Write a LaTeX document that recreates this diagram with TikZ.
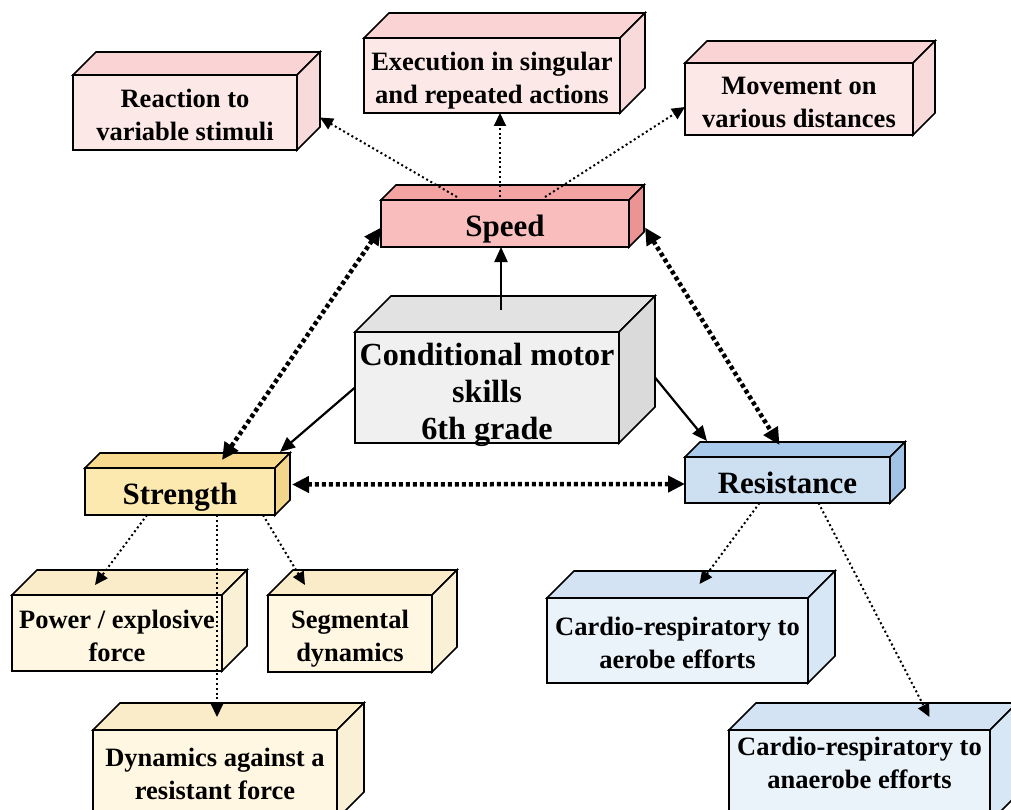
\documentclass[tikz,border=0pt]{standalone}
\usepackage{fontspec}
\setmainfont{Liberation Serif}
\usetikzlibrary{calc,arrows.meta}

\definecolor{spF}{HTML}{F9BDBD}
\definecolor{spT}{HTML}{F4A3A3}
\definecolor{spS}{HTML}{EC9494}
\definecolor{plF}{HTML}{FDE8E8}
\definecolor{plT}{HTML}{FAD4D4}
\definecolor{plS}{HTML}{F8DADA}
\definecolor{stF}{HTML}{FCE9B0}
\definecolor{stT}{HTML}{F8DA8E}
\definecolor{stS}{HTML}{F2D68C}
\definecolor{ylF}{HTML}{FFF7E2}
\definecolor{ylT}{HTML}{FBECC9}
\definecolor{ylS}{HTML}{FAF0D5}
\definecolor{reF}{HTML}{CDE0F2}
\definecolor{reT}{HTML}{A9CAEA}
\definecolor{reS}{HTML}{A0C3E6}
\definecolor{blF}{HTML}{EAF2FA}
\definecolor{blT}{HTML}{D3E3F3}
\definecolor{blS}{HTML}{D8E7F5}
\definecolor{ceF}{HTML}{F0F0F0}
\definecolor{ceT}{HTML}{E2E2E2}
\definecolor{ceS}{HTML}{DADADA}

\newcommand{\leaftext}[2][-5pt]{\fontsize{26.5}{33}\selectfont\raisebox{#1}[\height][\depth]{\begin{tabular}{@{}c@{}}#2\end{tabular}}}
\newcommand{\maintext}[2][-6pt]{\fontsize{31}{37}\selectfont\raisebox{#1}[\height][\depth]{\begin{tabular}{@{}c@{}}#2\end{tabular}}}
\newcommand{\centertext}[2][-8pt]{\fontsize{32.2}{37}\selectfont\raisebox{#1}[\height][\depth]{\begin{tabular}{@{}c@{}}#2\end{tabular}}}

% #1 name, #2 x1, #3 y1, #4 x2, #5 y2, #6 depth, #7 colour prefix, #8 text macro, #9 text
\newcommand{\drawcube}[9]{%
  \node[cubeface, fill=#7F, minimum width={(#4-#2)*1pt}, minimum height={(#5-#3)*1pt}]
    (#1) at ({(#2+#4)/2},{(#3+#5)/2}) {#8{#9}};
  \filldraw[cubeside, fill=#7T] (#1.north west) -- ++(#6,-#6) -- ($(#1.north east)+(#6,-#6)$) -- (#1.north east) -- cycle;
  \filldraw[cubeside, fill=#7S] (#1.north east) -- ++(#6,-#6) -- ($(#1.south east)+(#6,-#6)$) -- (#1.south east) -- cycle;
}

\tikzset{
  cubeface/.style={draw=black, line width=1.6pt, inner sep=0pt, outer sep=0pt, font=\bfseries, text=black},
  cubeside/.style={draw=black, line width=1.6pt, line join=miter},
  solidarrow/.style={line width=2.2pt, -{Triangle[length=15pt,width=13pt]}},
  thickdots/.style={line width=4.5pt, dash pattern=on 4pt off 3pt,
    {Triangle[length=17pt,width=16pt]}-{Triangle[length=17pt,width=16pt]}},
  thindots/.style={line width=2pt, dash pattern=on 2pt off 2.8pt, -{Triangle[length=13pt,width=12pt]}}
}

\begin{document}
\begin{tikzpicture}[x=1pt,y=-1pt]
\useasboundingbox (0,0) rectangle (1011,810);
\clip (0,0) rectangle (1011,810);
\fill[white] (0,0) rectangle (1011,810);

% boxes
\drawcube{reaction}{73}{75}{297}{150}{23}{pl}{\leaftext}{Reaction to\\variable stimuli}
\drawcube{execution}{364}{38}{620}{113}{25}{pl}{\leaftext}{Execution in singular\\and repeated actions}
\drawcube{movement}{685}{63}{913}{135}{22}{pl}{\leaftext}{Movement on\\various distances}
\drawcube{speed}{381}{200}{629}{247}{15}{sp}{\maintext}{Speed}
\drawcube{center}{355}{333}{619}{442}{36}{ce}{\centertext}{Conditional motor\\skills\\6th grade}
\drawcube{strength}{85}{468}{275}{515}{15}{st}{\maintext}{Strength}
\drawcube{resistance}{685}{457}{890}{503}{15}{re}{\maintext}{Resistance}
\drawcube{power}{12}{595}{222}{671}{25}{yl}{\leaftext}{Power / explosive\\force}
\drawcube{segmental}{268}{595}{432}{672}{25}{yl}{\leaftext}{Segmental\\dynamics}
\drawcube{aerobe}{547}{598}{808}{683}{27}{bl}{\leaftext}{Cardio-respiratory to\\aerobe efforts}
\drawcube{dynamics}{93}{730}{337}{819}{27}{yl}{\leaftext[-2pt]}{Dynamics against a\\resistant force}
\drawcube{anaerobe}{729}{730}{990}{822}{27}{bl}{\leaftext[11pt]}{Cardio-respiratory to\\anaerobe efforts}

% solid arrows from the centre
\draw[solidarrow] ($(center.north)+(14,-22)$) -- ($(speed.south)+(-4,0)$);
\draw[solidarrow] (center.west) -- ($(strength.north east)+(5,-16)$);
\draw[solidarrow] ($(center.east)+(36,-10)$) -- ($(resistance.north west)+(22,-16)$);

% thick dotted double arrows
\draw[thickdots] ($(speed.west)+(0,4)$) -- ($(strength.north)+(42,-8)$);
\draw[thickdots] ($(speed.east)+(16,4)$) -- ($(resistance.north)+(-8,-12)$);
\draw[thickdots] ($(strength.east)+(17,-7)$) -- ($(resistance.west)+(0,4)$);

% thin dotted arrows
\draw[thindots] ($(speed.north)+(-48,-3)$) -- ($(reaction.east)+(23,5)$);
\draw[thindots] ($(speed.north)+(-5,-3)$) -- ($(execution.south)+(8,0)$);
\draw[thindots] ($(speed.north)+(40,-3)$) -- ($(movement.west)+(0,8)$);
\draw[thindots] ($(strength.south)+(-33,0)$) -- ($(power.north)+(-22,-10)$);
\draw[thindots] ($(strength.south)+(37,0)$) -- ($(dynamics.north)+(2,-13)$);
\draw[thindots] ($(strength.south)+(83,0)$) -- ($(segmental.north)+(-45,-10)$);
\draw[thindots] ($(resistance.south)+(-28,0)$) -- ($(aerobe.north)+(22,-14)$);
\draw[thindots] ($(resistance.south)+(31,0)$) -- ($(anaerobe.north)+(70,-13)$);
\end{tikzpicture}
\end{document}
